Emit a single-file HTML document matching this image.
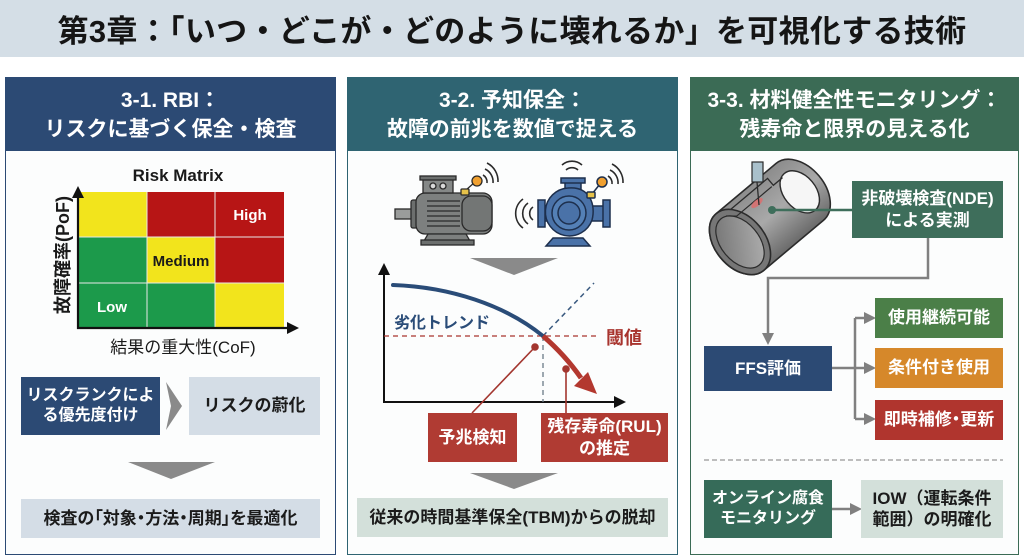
<!DOCTYPE html>
<html><head><meta charset="utf-8">
<style>
*{margin:0;padding:0;box-sizing:border-box}
body{width:1024px;height:559px;overflow:hidden;background:#fff;position:relative;font-family:"Liberation Sans","Noto Sans CJK JP",sans-serif}
.a{position:absolute}
.bx{position:absolute;display:flex;align-items:center;justify-content:center;text-align:center;font-weight:bold;line-height:1.25}
.title{position:absolute;left:0;top:0;width:1024px;height:57px;background:#d4dee6;display:flex;align-items:center;justify-content:center;font-size:31px;font-weight:bold;color:#151515;letter-spacing:0.3px}
.panel{position:absolute;top:77px;height:478px;background:#fcfdfd;border:1.5px solid}
.hd{position:absolute;left:0;top:0;right:0;height:73px;display:flex;align-items:center;justify-content:center;text-align:center;color:#fff;font-weight:bold;font-size:21px;line-height:29px}
.w{color:#fff}
.k{color:#1b1b1b}
.p{font-feature-settings:"palt"}
</style></head><body>
<div class="title">第3章：「いつ・どこが・どのように壊れるか」を可視化する技術</div>

<div class="panel" style="left:5px;width:331px;border-color:#2c4a74"><div class="hd" style="background:#2c4a74">3-1. RBI：<br>リスクに基づく保全・検査</div></div>
<div class="panel" style="left:347px;width:331px;border-color:#2f6472"><div class="hd" style="background:#2f6472">3-2. 予知保全：<br>故障の前兆を数値で捉える</div></div>
<div class="panel" style="left:690px;width:329px;border-color:#3b6b55"><div class="hd" style="background:#3b6b55">3-3. 材料健全性モニタリング：<br>残寿命と限界の見える化</div></div>

<svg class="a" style="left:0;top:0" width="1024" height="559" viewBox="0 0 1024 559">
<defs>
<linearGradient id="pg" x1="0" y1="0" x2="0" y2="1">
<stop offset="0" stop-color="#8c8c8c"/><stop offset="0.5" stop-color="#a9a9a9"/><stop offset="1" stop-color="#6a6a6a"/>
</linearGradient>
<linearGradient id="pi" x1="0" y1="0" x2="1" y2="1">
<stop offset="0" stop-color="#6f6f6f"/><stop offset="1" stop-color="#b4b4b4"/>
</linearGradient>
</defs>
<!-- Risk matrix -->
<rect x="78" y="192" width="69" height="45" fill="#f2e41c"/>
<rect x="147" y="192" width="68" height="45" fill="#b71515"/>
<rect x="215" y="192" width="69" height="45" fill="#b71515"/>
<rect x="78" y="237" width="69" height="46" fill="#1c9a4b"/>
<rect x="147" y="237" width="68" height="46" fill="#f2e41c"/>
<rect x="215" y="237" width="69" height="46" fill="#b71515"/>
<rect x="78" y="283" width="69" height="45" fill="#1c9a4b"/>
<rect x="147" y="283" width="68" height="45" fill="#1c9a4b"/>
<rect x="215" y="283" width="69" height="45" fill="#f2e41c"/>
<g stroke="#e8e8e8" stroke-width="1"><line x1="147" y1="192" x2="147" y2="328"/><line x1="215" y1="192" x2="215" y2="328"/><line x1="78" y1="237" x2="284" y2="237"/><line x1="78" y1="283" x2="284" y2="283"/></g>
<g stroke="#111" stroke-width="2.2" fill="#111">
<line x1="78" y1="329" x2="78" y2="196"/><polygon points="78,186 72,198 84,198" stroke="none"/>
<line x1="77" y1="328" x2="290" y2="328"/><polygon points="299,328 287,322 287,334" stroke="none"/>
</g>
<text x="250" y="220" font-size="15" font-weight="bold" fill="#fff" text-anchor="middle" font-family="Liberation Sans,sans-serif">High</text>
<text x="181" y="266" font-size="15" font-weight="bold" fill="#1a1a1a" text-anchor="middle" font-family="Liberation Sans,sans-serif">Medium</text>
<text x="112" y="312" font-size="15" font-weight="bold" fill="#fff" text-anchor="middle" font-family="Liberation Sans,sans-serif">Low</text>
<text x="178" y="181" font-size="17" font-weight="bold" fill="#1a1a1a" text-anchor="middle" font-family="Liberation Sans,sans-serif">Risk Matrix</text>
<text transform="translate(69,255) rotate(-90)" font-size="18" font-weight="bold" fill="#1a1a1a" text-anchor="middle" font-family="Liberation Sans,Noto Sans CJK JP,sans-serif">故障確率(PoF)</text>
<text x="183" y="353" font-size="17" fill="#1a1a1a" text-anchor="middle" font-family="Liberation Sans,Noto Sans CJK JP,sans-serif">結果の重大性(CoF)</text>
<!-- panel1 chevrons -->
<polygon points="166,382 182,406 166,430 171,406" fill="#8a8a8a"/>
<polygon points="128,462 215,462 171,479" fill="#8a8a8a"/>
<!-- panel2 chevrons -->
<polygon points="470,258 558,258 514,275" fill="#8a8a8a"/>
<polygon points="470,473 558,473 514,489" fill="#8a8a8a"/>

<!-- motor -->
<g stroke="#2a2a2a" stroke-width="1.3">
<rect x="395" y="209" width="20" height="10" fill="#9a9c9b"/>
<rect x="411" y="200" width="8" height="28" rx="2" fill="#6c6f6e"/>
<rect x="416" y="193" width="76" height="41" rx="9" fill="#7d807f"/>
<rect x="462" y="196" width="30" height="35" rx="9" fill="#737675"/>
<rect x="423" y="179" width="30" height="14" fill="#858887"/>
<rect x="420" y="176" width="36" height="4" fill="#6c6f6e"/>
<circle cx="433" cy="186" r="3" fill="#d8d8d8"/><circle cx="443" cy="186" r="3" fill="#d8d8d8"/>
<polygon points="428,234 466,234 470,241 424,241" fill="#7d807f"/>
<rect x="421" y="240" width="53" height="5" fill="#6c6f6e"/>
<line x1="427" y1="201" x2="460" y2="201"/><line x1="427" y1="206" x2="460" y2="206"/><line x1="427" y1="211" x2="460" y2="211"/><line x1="427" y1="216" x2="460" y2="216"/><line x1="427" y1="221" x2="460" y2="221"/><line x1="427" y1="226" x2="460" y2="226"/>
<line x1="466" y1="190" x2="475" y2="182"/>
<rect x="461" y="189" width="8" height="6" rx="1" fill="#e6c24a"/>
<circle cx="477" cy="181" r="5" fill="#f0a030"/>
</g>
<g fill="none" stroke="#2a2a2a" stroke-width="1.6">
<path d="M483,175 A8,8 0 0 1 487,183"/><path d="M485,169 A14,14 0 0 1 493,183"/><path d="M487,163 A20,20 0 0 1 498,182"/>
</g>
<!-- pump -->
<g stroke="#1d2f4d" stroke-width="1.5">
<polygon points="553,238 583,238 590,246 546,246" fill="#4a72a8"/>
<rect x="565" y="182" width="16" height="14" fill="#4a72a8"/>
<rect x="561" y="178" width="24" height="5" fill="#4a72a8"/>
<rect x="543" y="206" width="12" height="15" fill="#4a72a8"/>
<rect x="538" y="200" width="7" height="27" fill="#4a72a8"/>
<rect x="590" y="206" width="14" height="15" fill="#4a72a8"/>
<rect x="603" y="200" width="7" height="27" fill="#4a72a8"/>
<path d="M568,188 C590,186 596,205 592,220 A24,24 0 1 1 568,188 Z" fill="#4a72a8"/>
<circle cx="569" cy="213" r="17" fill="#5480b6"/>
<circle cx="569" cy="213" r="11" fill="#4a72a8"/>
<line x1="592" y1="194" x2="600" y2="184"/>
<rect x="587" y="192" width="8" height="6" rx="1" fill="#e6c24a"/>
<circle cx="602" cy="182" r="5" fill="#f0a030"/>
</g>
<g fill="none" stroke="#2a2a2a" stroke-width="1.6">
<path d="M566,170 A9,9 0 0 1 578,170"/><path d="M562,165 A15,15 0 0 1 582,165"/>
<path d="M608,176 A8,8 0 0 1 612,184"/><path d="M610,170 A14,14 0 0 1 618,184"/><path d="M612,164 A20,20 0 0 1 623,183"/>
<path d="M533,207 A8,8 0 0 0 533,220"/><path d="M528,203 A13,13 0 0 0 528,224"/><path d="M523,199 A18,18 0 0 0 523,228"/>
</g>

<!-- chart -->
<g stroke="#111" stroke-width="2" fill="#111">
<line x1="384" y1="403" x2="384" y2="272"/><polygon points="384,263 378,275 390,275" stroke="none"/>
<line x1="383" y1="402" x2="616" y2="402"/><polygon points="626,402 614,396 614,408" stroke="none"/>
</g>
<line x1="384" y1="336" x2="600" y2="336" stroke="#a8342e" stroke-width="1.3" stroke-dasharray="5,4"/>
<line x1="543" y1="336" x2="543" y2="402" stroke="#6a7a88" stroke-width="1.3" stroke-dasharray="5,4"/>
<line x1="543" y1="336" x2="594" y2="283" stroke="#3a5a80" stroke-width="1.5" stroke-dasharray="5,4"/>
<path d="M393,285 C450,287 505,305 543,336" fill="none" stroke="#2a4c78" stroke-width="4" stroke-linecap="round"/>
<path d="M543,336 Q565,355 581,378" fill="none" stroke="#b3382f" stroke-width="5"/>
<polygon points="597,394 574,386 588,372" fill="#b3382f"/>
<text x="394" y="328" font-size="16" font-weight="bold" fill="#2a4c78" font-family="Liberation Sans,Noto Sans CJK JP,sans-serif">劣化トレンド</text>
<text x="606" y="344" font-size="18" font-weight="bold" fill="#a8342e" font-family="Liberation Sans,Noto Sans CJK JP,sans-serif">閾値</text>
<g stroke="#a3362f" stroke-width="1.6" fill="#a3362f">
<line x1="535" y1="347" x2="472" y2="413"/><circle cx="535" cy="347" r="3"/>
<line x1="566" y1="369" x2="566" y2="413"/><circle cx="566" cy="369" r="3"/>
</g>

<!-- pipe -->
<g transform="translate(740,242) rotate(-40)">
<path d="M0,-37 L78,-37 A25,37 0 0 1 78,37 L0,37 A25,37 0 0 1 0,-37 Z" fill="url(#pg)" stroke="#2b2b2b" stroke-width="1.6"/>
<ellipse cx="78" cy="0" rx="16" ry="24" fill="#f6f6f6" stroke="#2b2b2b" stroke-width="1.4"/>
<path d="M10,-31 L62,-31 L62,-22 L74,-22" fill="none" stroke="#2b2b2b" stroke-width="1.3"/>
<ellipse cx="0" cy="0" rx="25" ry="37" fill="#767676" stroke="#2b2b2b" stroke-width="1.6"/>
<ellipse cx="0" cy="0" rx="19" ry="30" fill="url(#pi)" stroke="#2b2b2b" stroke-width="1.2"/>
<path d="M6,-29 L14,-22 L60,-22" fill="none" stroke="#2b2b2b" stroke-width="1.2"/>
</g>
<ellipse cx="757" cy="203" rx="7" ry="3" fill="#e06a6a" opacity="0.8" transform="rotate(-40 757 203)"/>
<rect x="752" y="162" width="11" height="20" fill="#a9c0cb" stroke="#2b2b2b" stroke-width="1.2"/>
<line x1="757" y1="182" x2="759" y2="205" stroke="#2b2b2b" stroke-width="1.3"/>
<line x1="772" y1="210" x2="852" y2="210" stroke="#3e6e5b" stroke-width="2.5"/>
<circle cx="772" cy="210" r="4" fill="#3e6e5b"/>

<!-- panel3 connectors -->
<g stroke="#808080" stroke-width="2.5" fill="none">
<path d="M928,238 L928,278 L768,278 L768,336"/>
<path d="M832,368 L866,368"/>
<path d="M855,318 L855,419"/>
<path d="M855,318 L866,318"/>
<path d="M855,419 L866,419"/>
<path d="M832,509 L852,509"/>
</g>
<g fill="#808080">
<polygon points="768,345 762,333 774,333"/>
<polygon points="876,318 864,312 864,324"/>
<polygon points="876,368 864,362 864,374"/>
<polygon points="876,419 864,413 864,425"/>
<polygon points="862,509 850,503 850,515"/>
</g>
<line x1="704" y1="460" x2="1003" y2="460" stroke="#a8a8a8" stroke-width="1.5" stroke-dasharray="5,3"/>
</svg>

<!-- panel1 boxes -->
<div class="bx w" style="left:21px;top:377px;width:139px;height:58px;background:#2c4a74;font-size:16px">リスクランクによ<br>る優先度付け</div>
<div class="bx k" style="left:189px;top:377px;width:131px;height:58px;background:#d4dde6;font-size:17px">リスクの蔚化</div>
<div class="bx k p" style="left:21px;top:499px;width:299px;height:39px;background:#d4dde6;font-size:17px">検査の「対象・方法・周期」を最適化</div>

<!-- panel2 boxes -->
<div class="bx w" style="left:428px;top:413px;width:89px;height:49px;background:#b03b33;font-size:17px">予兆検知</div>
<div class="bx w" style="left:541px;top:413px;width:127px;height:49px;background:#b03b33;font-size:17px">残存寿命(RUL)<br>の推定</div>
<div class="bx k" style="left:357px;top:498px;width:311px;height:39px;background:#d3e0da;font-size:17px">従来の時間基準保全(TBM)からの脱却</div>

<!-- panel3 boxes -->
<div class="bx w" style="left:852px;top:181px;width:151px;height:57px;background:#3e6e5b;font-size:17px">非破壊検査(NDE)<br>による実測</div>
<div class="bx w" style="left:704px;top:346px;width:128px;height:45px;background:#2c4a74;font-size:17px">FFS評価</div>
<div class="bx w" style="left:875px;top:298px;width:128px;height:40px;background:#4b7f48;font-size:17px">使用継続可能</div>
<div class="bx w" style="left:875px;top:348px;width:128px;height:40px;background:#d6882a;font-size:17px">条件付き使用</div>
<div class="bx w p" style="left:875px;top:400px;width:128px;height:40px;background:#b0352e;font-size:17px">即時補修・更新</div>
<div class="bx w" style="left:704px;top:480px;width:128px;height:58px;background:#366b59;font-size:16px">オンライン腐食<br>モニタリング</div>
<div class="bx k" style="left:861px;top:480px;width:142px;height:58px;background:#d3e0da;font-size:17px">IOW（運転条件<br>範囲）の明確化</div>
</body></html>
